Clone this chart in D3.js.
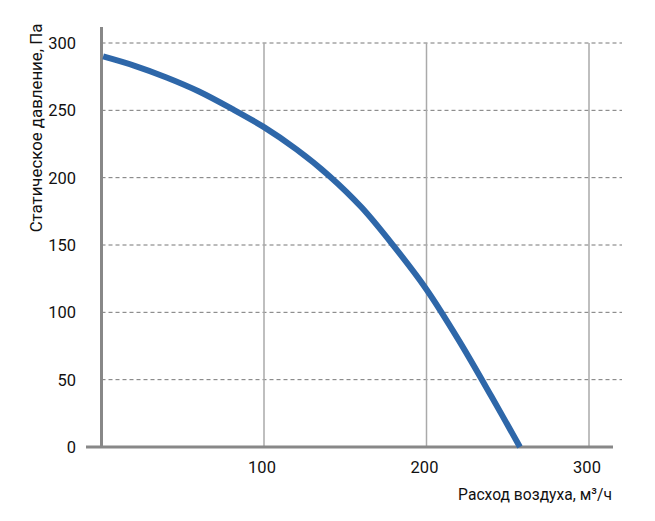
<!DOCTYPE html>
<html>
<head>
<meta charset="utf-8">
<script src="https://cdn.jsdelivr.net/npm/d3@7"></script>
<style>
  html, body { margin: 0; padding: 0; background: #fff; }
  svg text { font-family: Roboto, "DejaVu Sans Condensed", sans-serif; fill: #111; }
</style>
</head>
<body>
<svg id="chart" width="655" height="521"></svg>
<script>
const flow = [1, 20, 40, 60, 80, 100, 120, 140, 160, 180, 200, 220, 240, 257.5];
const pressure = [290, 283.2, 274.4, 264, 251.3, 237.5, 221, 201.5, 178, 149, 117, 79, 37.5, 0];
const xTicks = [100, 200, 300];
const yTicks = [0, 50, 100, 150, 200, 250, 300];
const xTitle = "Расход воздуха, м³/ч";
const yTitle = "Статическое давление, Па";

const svg = d3.select("#chart");
const x = d3.scaleLinear().domain([0, 300]).range([101.5, 589]);
const y = d3.scaleLinear().domain([0, 300]).range([447, 43]);
const SX = 0.97;

// horizontal dashed grid
svg.append("g").selectAll("line").data(yTicks.filter(d => d > 0)).join("line")
  .attr("x1", x(0)).attr("x2", 622)
  .attr("y1", d => y(d)).attr("y2", d => y(d))
  .attr("stroke", "#777").attr("stroke-width", 1).attr("stroke-dasharray", "4,3");

// vertical grid
svg.append("g").selectAll("line").data(xTicks).join("line")
  .attr("x1", d => x(d)).attr("x2", d => x(d))
  .attr("y1", y(300)).attr("y2", y(0))
  .attr("stroke", "#aaa").attr("stroke-width", 1.5);

// left axis line
svg.append("line").attr("x1", x(0)).attr("x2", x(0)).attr("y1", 27).attr("y2", y(0))
  .attr("stroke", "#888").attr("stroke-width", 3);
// baseline
svg.append("line").attr("x1", 86).attr("x2", 613).attr("y1", y(0)).attr("y2", y(0))
  .attr("stroke", "#888").attr("stroke-width", 3);

// y tick labels
svg.append("g").selectAll("text").data(yTicks).join("text")
  .attr("transform", d => `translate(76,${y(d) + 6}) scale(${SX},1)`)
  .attr("text-anchor", "end").attr("font-size", 17)
  .text(d => d);

// x tick labels
svg.append("g").selectAll("text").data(xTicks).join("text")
  .attr("transform", d => `translate(${x(d) - 2},473) scale(${SX},1)`)
  .attr("text-anchor", "middle").attr("font-size", 17)
  .text(d => d);

// titles
svg.append("text").attr("transform", `translate(612,500) scale(0.92,1)`).attr("text-anchor", "end")
  .attr("font-size", 17).text(xTitle);
svg.append("text").attr("transform", `translate(42,128) rotate(-90) scale(0.99,1)`)
  .attr("text-anchor", "middle").attr("font-size", 17).text(yTitle);

// curve
const pts = flow.map((f, i) => [f, pressure[i]]);
svg.append("path").datum(pts)
  .attr("fill", "none").attr("stroke", "#2e67a9").attr("stroke-width", 6)
  .attr("d", d3.line().x(d => x(d[0])).y(d => y(d[1])).curve(d3.curveCatmullRom.alpha(0.5)));
</script>
</body>
</html>
